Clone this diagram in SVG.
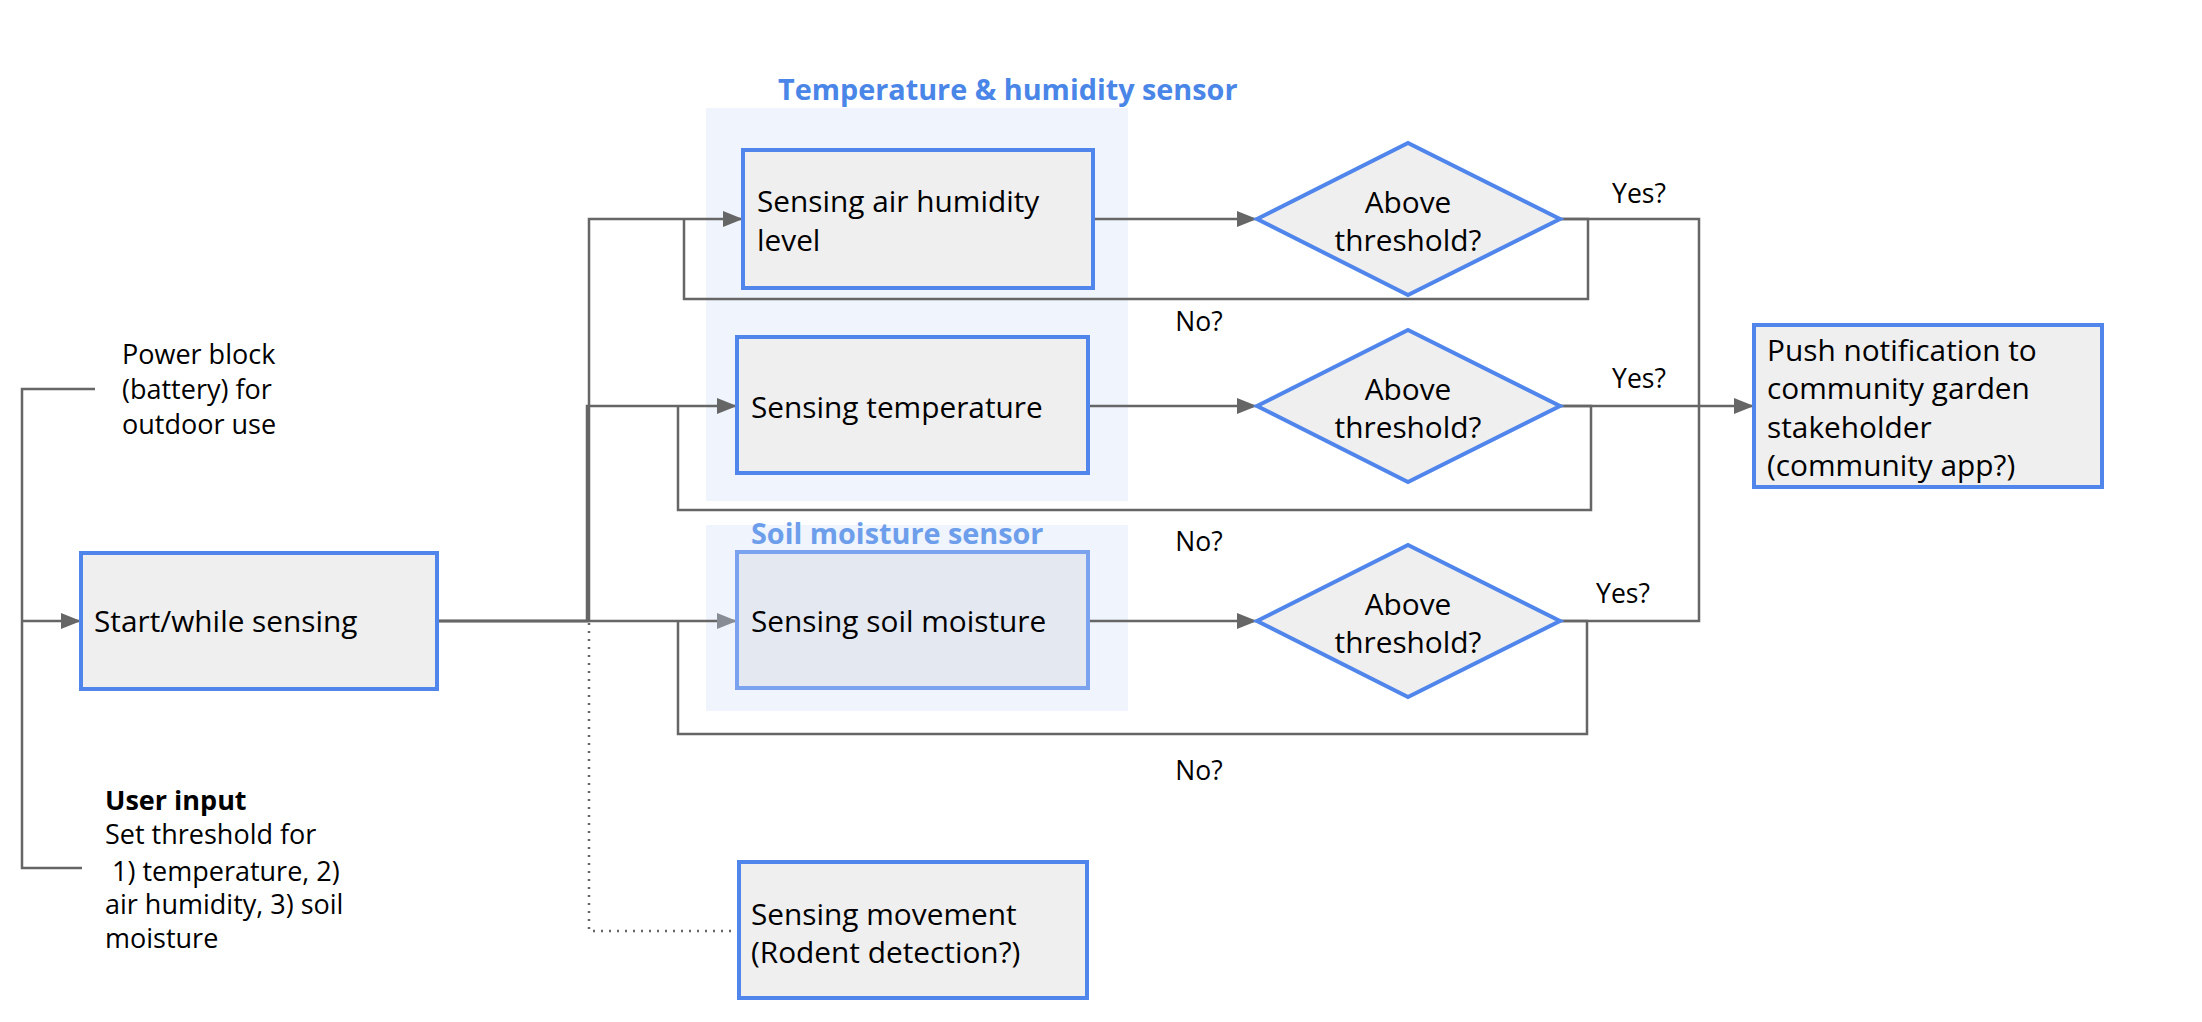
<svg xmlns="http://www.w3.org/2000/svg" width="2202" height="1022" viewBox="0 0 2202 1022">
<style>
.box{fill:#efefef;stroke:#5086ec;stroke-width:4}
.soft{fill:#e4e8f1;stroke:#7aa2ee;stroke-width:4}
.bg{fill:#eff4fd}
.t{font-family:"Open Sans","Liberation Sans",sans-serif;font-size:29.8px;fill:#000}
.s{font-family:"Open Sans","Liberation Sans",sans-serif;font-size:27px;fill:#000}
.l{font-family:"Open Sans","Liberation Sans",sans-serif;font-size:26.5px;fill:#000}
.h{font-family:"Open Sans","Liberation Sans",sans-serif;font-size:28.8px;font-weight:bold}
.c{fill:none;stroke:#666;stroke-width:2.5}
</style>
<defs>
<marker id="a" markerUnits="userSpaceOnUse" markerWidth="22" markerHeight="18" refX="20" refY="8" orient="auto"><path d="M0,0 L20,8 L0,16 z" fill="#666"/></marker>
<marker id="a2" markerUnits="userSpaceOnUse" markerWidth="22" markerHeight="18" refX="20" refY="8" orient="auto"><path d="M0,0 L20,8 L0,16 z" fill="#888c94"/></marker>
</defs>

<g id="group-temp-humidity">
<rect class="bg" x="706" y="108" width="422" height="393"/>
<text class="h" x="778" y="100" fill="#4a86e8">Temperature &amp; humidity sensor</text>
</g>
<g id="group-soil">
<rect class="bg" x="706" y="525" width="422" height="186"/>
<text class="h" x="751" y="544" fill="#6d9eeb">Soil moisture sensor</text>
</g>

<g id="connectors">
<path class="c" d="M95,389 H22 V868 H82"/>
<path class="c" d="M22,621 H81" marker-end="url(#a)"/>
<path class="c" d="M437,621 H589 V219 H743" marker-end="url(#a)"/>
<path class="c" d="M437,621 H587 V406 H737" marker-end="url(#a)"/>
<path class="c" d="M437,621 H737" stroke="#888c94" marker-end="url(#a2)"/>
<path class="c" d="M589,623 V931 H739" stroke="#888" stroke-dasharray="2 6"/>
<path class="c" d="M1093,219 H1257" marker-end="url(#a)"/>
<path class="c" d="M1088,406 H1257" marker-end="url(#a)"/>
<path class="c" d="M1088,621 H1257" marker-end="url(#a)"/>
<path class="c" d="M1560,219 H1588 V299 H684 V219"/>
<path class="c" d="M1560,406 H1591 V510 H678 V406"/>
<path class="c" d="M1560,621 H1587 V734 H678 V621"/>
<path class="c" d="M1560,219 H1699 V621 H1560"/>
<path class="c" d="M1560,406 H1754" marker-end="url(#a)"/>
<text class="l" x="1639" y="203" text-anchor="middle">Yes?</text>
<text class="l" x="1639" y="388" text-anchor="middle">Yes?</text>
<text class="l" x="1623" y="603" text-anchor="middle">Yes?</text>
<text class="l" x="1199" y="331" text-anchor="middle">No?</text>
<text class="l" x="1199" y="551" text-anchor="middle">No?</text>
<text class="l" x="1199" y="780" text-anchor="middle">No?</text>
</g>

<g id="power-block">
<text class="s" x="122" y="364">Power block</text>
<text class="s" x="122" y="399">(battery) for</text>
<text class="s" x="122" y="434">outdoor use</text>
</g>

<g id="user-input">
<text class="s" x="105" y="810" font-weight="bold">User input</text>
<text class="s" x="105" y="844">Set threshold for</text>
<text class="s" x="105" y="881" xml:space="preserve"> 1) temperature, 2)</text>
<text class="s" x="105" y="914">air humidity, 3) soil</text>
<text class="s" x="105" y="948">moisture</text>
</g>

<g id="start">
<rect class="box" x="81" y="553" width="356" height="136"/>
<text class="t" x="94" y="632">Start/while sensing</text>
</g>

<g id="sense-humidity">
<rect class="box" x="743" y="150" width="350" height="138"/>
<text class="t" x="757" y="212">Sensing air humidity</text>
<text class="t" x="757" y="251">level</text>
</g>

<g id="sense-temperature">
<rect class="box" x="737" y="337" width="351" height="136"/>
<text class="t" x="751" y="418">Sensing temperature</text>
</g>

<g id="sense-soil">
<rect class="soft" x="737" y="552" width="351" height="136"/>
<text class="t" x="751" y="632" fill="#434343">Sensing soil moisture</text>
</g>

<g id="sense-movement">
<rect class="box" x="739" y="862" width="348" height="136"/>
<text class="t" x="751" y="925">Sensing movement</text>
<text class="t" x="751" y="963">(Rodent detection?)</text>
</g>

<g id="decision-1">
<path class="box" d="M1257,219 L1408,143 L1560,219 L1408,295 Z"/>
<text class="t" x="1408" y="213" text-anchor="middle">Above</text>
<text class="t" x="1408" y="251" text-anchor="middle">threshold?</text>
</g>
<g id="decision-2">
<path class="box" d="M1257,406 L1408,330 L1560,406 L1408,482 Z"/>
<text class="t" x="1408" y="400" text-anchor="middle">Above</text>
<text class="t" x="1408" y="438" text-anchor="middle">threshold?</text>
</g>
<g id="decision-3">
<path class="box" d="M1257,621 L1408,545 L1560,621 L1408,697 Z"/>
<text class="t" x="1408" y="615" text-anchor="middle">Above</text>
<text class="t" x="1408" y="653" text-anchor="middle">threshold?</text>
</g>

<g id="push-notification">
<rect class="box" x="1754" y="325" width="348" height="162"/>
<text class="t" x="1767" y="361">Push notification to</text>
<text class="t" x="1767" y="399">community garden</text>
<text class="t" x="1767" y="438">stakeholder</text>
<text class="t" x="1767" y="476">(community app?)</text>
</g>
</svg>
